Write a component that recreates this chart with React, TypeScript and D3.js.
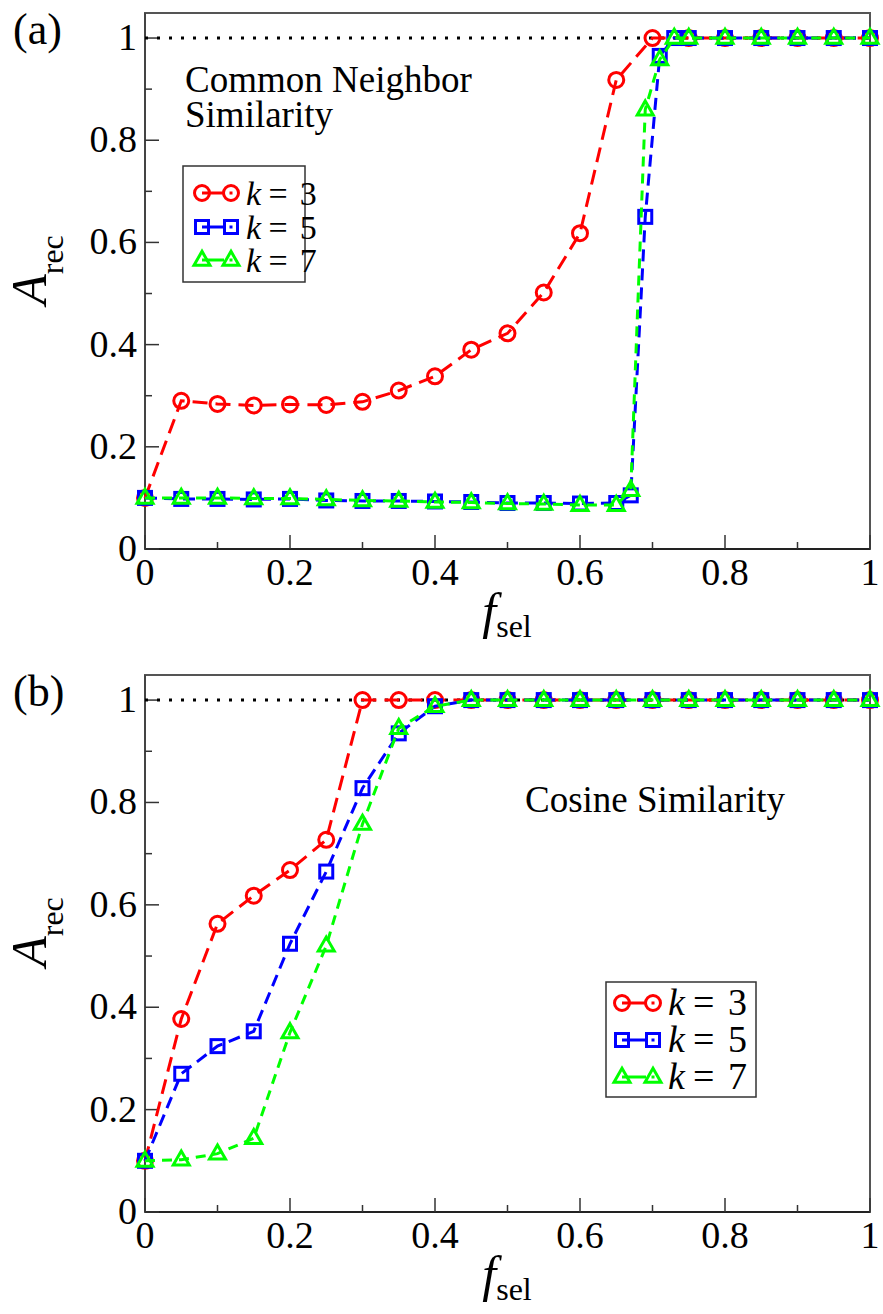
import React from "react";
import * as d3 from "d3";

// ---------- DATA ----------
const xStd = [0, 0.05, 0.1, 0.15, 0.2, 0.25, 0.3, 0.35, 0.4, 0.45, 0.5, 0.55, 0.6, 0.65, 0.7, 0.75, 0.8, 0.85, 0.9, 0.95, 1.0];
const xFine = [0, 0.05, 0.1, 0.15, 0.2, 0.25, 0.3, 0.35, 0.4, 0.45, 0.5, 0.55, 0.6, 0.65, 0.67, 0.69, 0.71, 0.73, 0.75, 0.8, 0.85, 0.9, 0.95, 1.0];

// Panel (a): Common Neighbor Similarity
const aK3 = [0.10, 0.29, 0.284, 0.281, 0.283, 0.282, 0.288, 0.31, 0.338, 0.39, 0.422, 0.502, 0.618, 0.918, 1.0, 1.0, 1.0, 1.0, 1.0, 1.0, 1.0];
const aK5 = [0.10, 0.098, 0.098, 0.097, 0.098, 0.095, 0.094, 0.094, 0.093, 0.092, 0.09, 0.09, 0.089, 0.09, 0.105, 0.65, 0.965, 1.0, 1.0, 1.0, 1.0, 1.0, 1.0, 1.0];
const aK7 = [0.10, 0.10, 0.10, 0.099, 0.099, 0.097, 0.095, 0.094, 0.092, 0.091, 0.089, 0.088, 0.086, 0.086, 0.115, 0.86, 0.958, 1.0, 1.0, 1.0, 1.0, 1.0, 1.0, 1.0];

// Panel (b): Cosine Similarity
const bK3 = [0.10, 0.377, 0.563, 0.618, 0.668, 0.727, 1.0, 1.0, 1.0, 1.0, 1.0, 1.0, 1.0, 1.0, 1.0, 1.0, 1.0, 1.0, 1.0, 1.0, 1.0];
const bK5 = [0.10, 0.27, 0.324, 0.353, 0.524, 0.665, 0.828, 0.935, 0.988, 1.0, 1.0, 1.0, 1.0, 1.0, 1.0, 1.0, 1.0, 1.0, 1.0, 1.0, 1.0];
const bK7 = [0.10, 0.102, 0.114, 0.144, 0.351, 0.52, 0.758, 0.945, 0.988, 1.0, 1.0, 1.0, 1.0, 1.0, 1.0, 1.0, 1.0, 1.0, 1.0, 1.0, 1.0];

const xTicks = [0, 0.2, 0.4, 0.6, 0.8, 1];
const yTicks = [0, 0.2, 0.4, 0.6, 0.8, 1];
const xMinor = [0.1, 0.3, 0.5, 0.7, 0.9];
const yMinor = [0.1, 0.3, 0.5, 0.7, 0.9];
const legendLabels = ["3", "5", "7"];

const FONT = "'Liberation Serif', 'Times New Roman', serif";
const RED = "#ff0000";
const BLUE = "#0000ff";
const GREEN = "#00ff00";

type Series = { xs: number[]; ys: number[]; color: string; shape: string; dash: string };

function Marker({ shape, x, y, color, dot }: { shape: string; x: number; y: number; color: string; dot?: boolean }) {
  const sw = 3;
  let el;
  if (shape === "circle") {
    el = <circle cx={x} cy={y} r={7.5} fill="none" stroke={color} strokeWidth={sw} />;
  } else if (shape === "square") {
    el = <rect x={x - 6.5} y={y - 6.5} width={13} height={13} fill="none" stroke={color} strokeWidth={sw} />;
  } else {
    const h = 14;
    const w = 16;
    el = (
      <path
        d={`M${x},${y - h * 0.62}L${x + w / 2},${y + h * 0.38}L${x - w / 2},${y + h * 0.38}Z`}
        fill="none"
        stroke={color}
        strokeWidth={sw}
        strokeLinejoin="miter"
      />
    );
  }
  return (
    <g>
      {el}
      {dot ? <rect x={x - 1.5} y={y - 1.5} width={3} height={3} fill={color} /> : null}
    </g>
  );
}

function Panel({
  top,
  bottom,
  label,
  series,
  note,
  legend,
}: {
  top: number;
  bottom: number;
  label: string;
  series: Series[];
  note: { lines: string[]; x: number; y: number; lh: number };
  legend: { x: number; y: number; w: number; h: number; rowY: number[]; m1: number; m2: number; tx: number; fs: number };
}) {
  const left = 145;
  const right = 870;
  const x = d3.scaleLinear().domain([0, 1]).range([left, right]);
  const y = d3.scaleLinear().domain([0, 1.049]).range([bottom, top]);
  const line = d3
    .line<[number, number]>()
    .x((d) => x(d[0]))
    .y((d) => y(d[1]));

  return (
    <g fontFamily={FONT}>
      {/* frame */}
      <rect x={left} y={top} width={right - left} height={bottom - top} fill="none" stroke="#555" strokeWidth={2} />
      <line x1={left} x2={right} y1={bottom} y2={bottom} stroke="#222" strokeWidth={2} />
      <line x1={left} x2={left} y1={top} y2={bottom} stroke="#444" strokeWidth={2} />

      {/* ticks */}
      {xTicks.map((t) => (
        <line key={"xt" + t} x1={x(t)} x2={x(t)} y1={bottom} y2={bottom - 14} stroke="#333" strokeWidth={1.5} />
      ))}
      {xMinor.map((t) => (
        <line key={"xm" + t} x1={x(t)} x2={x(t)} y1={bottom} y2={bottom - 7} stroke="#333" strokeWidth={1.5} />
      ))}
      {yTicks.map((t) => (
        <line key={"yt" + t} x1={left} x2={left + 14} y1={y(t)} y2={y(t)} stroke="#333" strokeWidth={1.5} />
      ))}
      {yMinor.map((t) => (
        <line key={"ym" + t} x1={left} x2={left + 7} y1={y(t)} y2={y(t)} stroke="#333" strokeWidth={1.5} />
      ))}

      {/* tick labels */}
      {xTicks.map((t) => (
        <text key={"xl" + t} x={x(t)} y={bottom + 36} fontSize={38} textAnchor="middle" fill="#000">
          {d3.format("~g")(t)}
        </text>
      ))}
      {yTicks.map((t) => (
        <text key={"yl" + t} x={left - 8} y={y(t) + 12} fontSize={38} textAnchor="end" fill="#000">
          {d3.format("~g")(t)}
        </text>
      ))}

      {/* axis titles */}
      <text x={507} y={bottom + 79} textAnchor="middle" fill="#000">
        <tspan fontStyle="italic" fontSize={50}>f</tspan>
        <tspan fontSize={32} dy={9}>sel</tspan>
      </text>
      <text transform={`translate(46,${top + 257}) rotate(-90)`} textAnchor="middle" fill="#000">
        <tspan fontStyle="italic" fontSize={50}>A</tspan>
        <tspan fontSize={32} dy={17}>rec</tspan>
      </text>

      {/* panel label */}
      <text x={13} y={top + 31} fontSize={44} fill="#000">
        {label}
      </text>

      {/* reference line at 1 */}
      <line x1={x(0)} x2={x(1)} y1={y(1)} y2={y(1)} stroke="#000" strokeWidth={3} strokeDasharray="3,9" />

      {/* series */}
      {series.map((s, i) => {
        const pts = s.xs.map((v, j) => [v, s.ys[j]] as [number, number]);
        return (
          <g key={"s" + i}>
            <path d={line(pts) || ""} fill="none" stroke={s.color} strokeWidth={3} strokeDasharray={s.dash} />
            {pts.map((p, j) => (
              <Marker key={j} shape={s.shape} x={x(p[0])} y={y(p[1])} color={s.color} />
            ))}
          </g>
        );
      })}

      {/* annotation */}
      {note.lines.map((l, i) => (
        <text key={"n" + i} x={note.x} y={note.y + i * note.lh} fontSize={37} fill="#000">
          {l}
        </text>
      ))}

      {/* legend */}
      <rect x={legend.x} y={legend.y} width={legend.w} height={legend.h} fill="#fff" stroke="#333" strokeWidth={1.5} />
      {series.map((s, i) => {
        const ry = legend.rowY[i];
        const fs = legend.fs;
        return (
          <g key={"lg" + i}>
            <line x1={legend.m1} x2={legend.m2 - 7} y1={ry} y2={ry} stroke={s.color} strokeWidth={3} />
            <Marker shape={s.shape} x={legend.m1} y={ry} color={s.color} />
            <Marker shape={s.shape} x={legend.m2} y={ry} color={s.color} dot />
            <text x={legend.tx} y={ry + 12} fontSize={fs} fontStyle="italic" fill="#000">
              k
            </text>
            <text x={legend.tx + fs * 0.66} y={ry + 12} fontSize={fs} fill="#000">
              =
            </text>
            <text x={legend.tx + fs * 1.58} y={ry + 12} fontSize={fs} fill="#000">
              {legendLabels[i]}
            </text>
          </g>
        );
      })}
    </g>
  );
}

export default function App() {
  const seriesA: Series[] = [
    { xs: xStd, ys: aK3, color: RED, shape: "circle", dash: "15,8" },
    { xs: xFine, ys: aK5, color: BLUE, shape: "square", dash: "12,7" },
    { xs: xFine, ys: aK7, color: GREEN, shape: "triangle", dash: "10,7" },
  ];
  const seriesB: Series[] = [
    { xs: xStd, ys: bK3, color: RED, shape: "circle", dash: "15,8" },
    { xs: xStd, ys: bK5, color: BLUE, shape: "square", dash: "12,7" },
    { xs: xStd, ys: bK7, color: GREEN, shape: "triangle", dash: "10,7" },
  ];
  return (
    <svg width={883} height={1314} style={{ position: "absolute", left: 0, top: 0, background: "#fff" }}>
      <rect width={883} height={1314} fill="#fff" />
      <Panel
        top={13}
        bottom={549}
        label="(a)"
        series={seriesA}
        note={{ lines: ["Common Neighbor", "Similarity"], x: 185, y: 92, lh: 35 }}
        legend={{ x: 183, y: 166, w: 122, h: 116, rowY: [193, 227, 260], m1: 202, m2: 231, tx: 246, fs: 34 }}
      />
      <Panel
        top={675}
        bottom={1212}
        label="(b)"
        series={seriesB}
        note={{ lines: ["Cosine Similarity"], x: 525, y: 812, lh: 35 }}
        legend={{ x: 606, y: 982, w: 150, h: 115, rowY: [1003, 1040, 1077], m1: 622, m2: 653, tx: 668, fs: 38 }}
      />
    </svg>
  );
}
